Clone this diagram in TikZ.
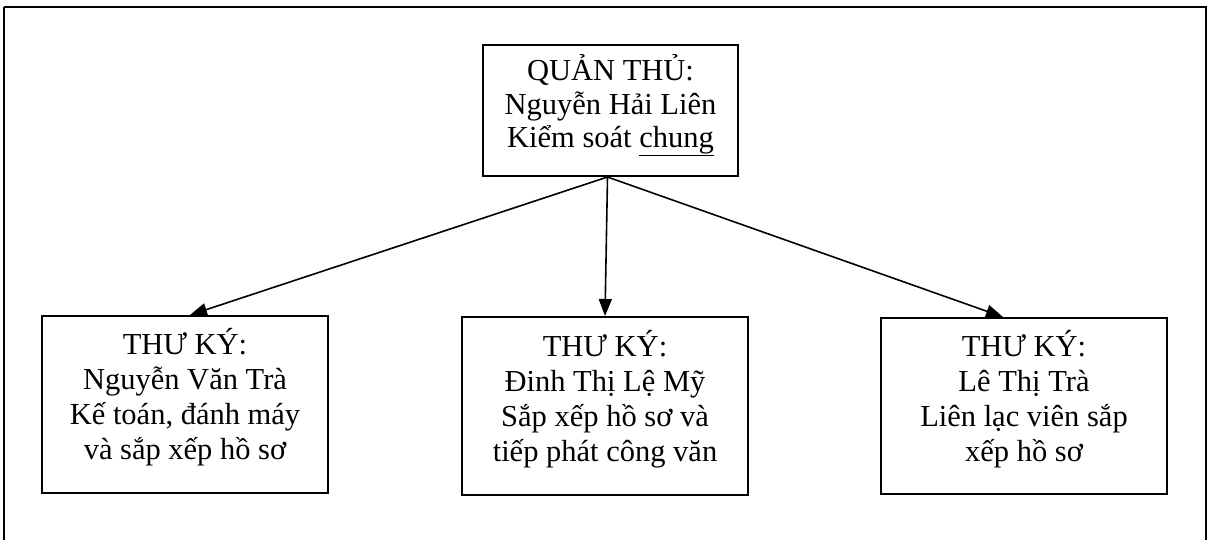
\documentclass[tikz,border=0pt]{standalone}
\usepackage{fontspec}
\setmainfont{Liberation Serif}
\usetikzlibrary{arrows.meta}
\begin{document}
\begin{tikzpicture}[x=1pt,y=-1pt,
  box/.style={draw,line width=2pt,inner sep=0pt},
  txt/.style={align=center,font=\fontsize{30.5}{35}\selectfont,inner sep=0pt},
  conn/.style={line width=1.6pt,-{Triangle[length=17pt,width=13pt]}}]
\useasboundingbox (0,0) rectangle (1210,539);
\begin{scope}
\clip (0,0) rectangle (1210,539);
\draw[line width=1.6pt] (4,7) -- (1206,7) -- (1206,560) (4,7) -- (4,560);
\end{scope}
\node[box,minimum width=255pt,minimum height=131pt] (top) at (610.5,110.5) {};
\node[txt,font=\fontsize{30.5}{33.5}\selectfont] (toptxt) at ([yshift=5pt]top.center)
  {QUẢN THỦ:\\Nguyễn Hải Liên\\Kiểm soát \underline{chung}};
\node[box,minimum width=286pt,minimum height=177pt] (left) at (185,404.5) {};
\node[txt] (lefttxt) at ([yshift=7pt]left.center)
  {THƯ KÝ:\\Nguyễn Văn Trà\\Kế toán, đánh máy\\và sắp xếp hồ sơ};
\node[box,minimum width=286pt,minimum height=178pt] (mid) at (605,406) {};
\node[txt] (midtxt) at ([yshift=7pt]mid.center)
  {THƯ KÝ:\\Đinh Thị Lệ Mỹ\\Sắp xếp hồ sơ và\\tiếp phát công văn};
\node[box,minimum width=286pt,minimum height=176pt] (right) at (1024,406) {};
\node[txt] (righttxt) at ([yshift=7pt]right.center)
  {THƯ KÝ:\\Lê Thị Trà\\Liên lạc viên sắp\\xếp hồ sơ};
\coordinate (src) at ([xshift=-3pt]top.south);
\draw[conn] (src) -- ([xshift=5pt]left.north);
\draw[conn] (src) -- (mid.north);
\draw[conn] (src) -- ([xshift=-21pt]right.north);
\end{tikzpicture}
\end{document}
